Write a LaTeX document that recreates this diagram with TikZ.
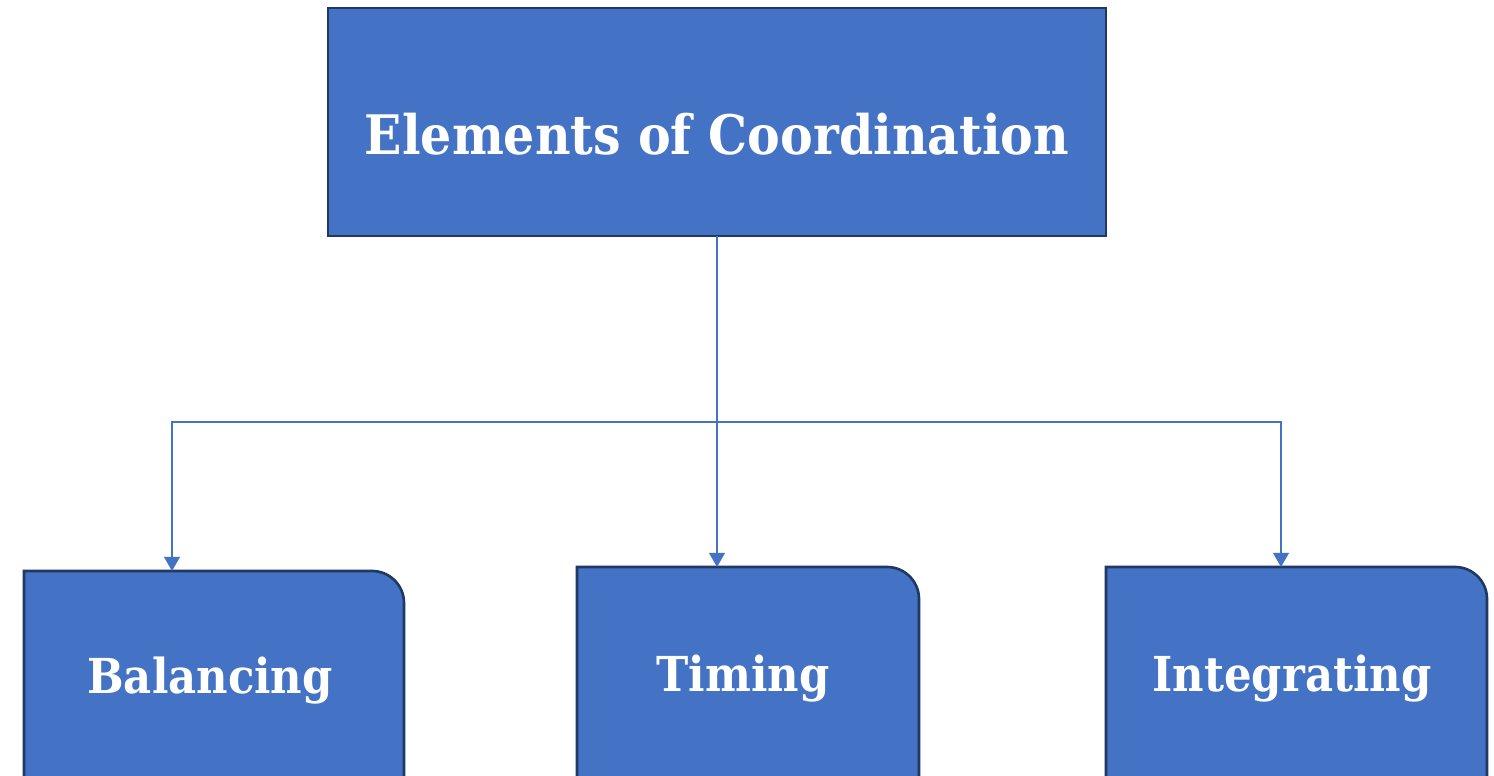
\documentclass[tikz,border=0pt]{standalone}
\usepackage{fontspec}
\setmainfont{DejaVu Serif}
\newfontfamily\boxfont[FakeStretch=0.9]{DejaVu Serif}
\usetikzlibrary{arrows.meta}
\definecolor{boxfill}{HTML}{4472C4}
\definecolor{boxedge}{HTML}{1F3864}
\tikzset{
  box/.style={fill=boxfill, draw=boxedge, line width=1.5pt},
  title/.style={text=white, font=\boxfont\bfseries\fontsize{31}{36}\selectfont, inner sep=0pt},
  label/.style={text=white, font=\boxfont\bfseries\fontsize{27.4}{33}\selectfont, inner sep=0pt},
  conn/.style={draw=boxfill, line width=0.8pt},
  arr/.style={conn, -{Triangle[width=9pt,length=8pt]}}
}
\begin{document}
\begin{tikzpicture}[x=0.02cm, y=-0.02cm]
  \useasboundingbox (0,0) rectangle (1494,776);
  \clip (0,0) rectangle (1494,776);
  \fill[white] (0,0) rectangle (1494,776);

  % root box
  \draw[box] (328,8) rectangle (1106,236);
  \node[title] (top) at (717,134) {Elements of Coordination};
  \coordinate (topout) at (717,236);

  % child boxes, only the top right corner is rounded
  \draw[box] (24,800) -- (24,571) [rounded corners=0.64cm] -- (404,571) -- (404,800);
  \draw[box] (577,800) -- (577,567) [rounded corners=0.64cm] -- (919,567) -- (919,800);
  \draw[box] (1106,800) -- (1106,567) [rounded corners=0.64cm] -- (1487,567) -- (1487,800);
  \node[label] (bal) at (210,681) {Balancing};
  \node[label] (tim) at (743,679) {Timing};
  \node[label] (int) at (1292,679) {Integrating};

  % entry points on the child boxes
  \coordinate (balin) at (172,571);
  \coordinate (timin) at (717,567);
  \coordinate (intin) at (1281,567);
  \coordinate (bus) at (717,422);

  % connectors
  \draw[arr] (topout) -- (timin);
  \draw[arr] (bus) -| (balin);
  \draw[arr] (bus) -| (intin);
\end{tikzpicture}
\end{document}
